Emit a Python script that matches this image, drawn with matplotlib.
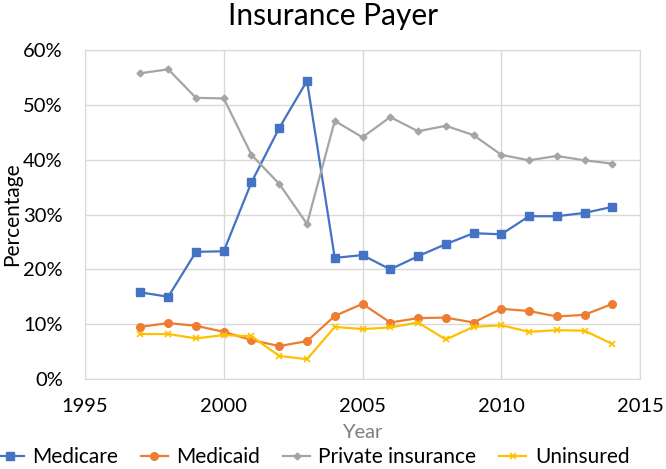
import matplotlib
matplotlib.use('Agg')
import matplotlib.pyplot as plt
from matplotlib.ticker import PercentFormatter

# 数据
years = list(range(1997, 2015))
medicare = [15.8, 15.0, 23.2, 23.3, 35.9, 45.8, 54.4, 22.1, 22.6, 20.0,
            22.4, 24.6, 26.6, 26.4, 29.7, 29.7, 30.3, 31.4]
medicaid = [9.5, 10.2, 9.7, 8.6, 7.1, 6.0, 6.9, 11.5, 13.7, 10.3,
            11.1, 11.2, 10.3, 12.8, 12.4, 11.4, 11.7, 13.7]
private_ins = [55.8, 56.5, 51.3, 51.2, 40.9, 35.6, 28.3, 47.1, 44.1, 47.8,
               45.2, 46.2, 44.5, 40.9, 39.9, 40.7, 39.9, 39.3]
uninsured = [8.2, 8.2, 7.4, 8.0, 7.8, 4.2, 3.6, 9.5, 9.1, 9.4,
             10.3, 7.2, 9.5, 9.8, 8.6, 8.9, 8.8, 6.4]
x_ticks = [1995, 2000, 2005, 2010, 2015]
y_ticks = [0, 10, 20, 30, 40, 50, 60]

plt.rcParams['font.family'] = ['Lato', 'DejaVu Sans']

fig = plt.figure(figsize=(6.66, 4.69), dpi=100)
ax = fig.add_axes([0.1276, 0.192, 0.8334, 0.701])

ax.plot(years, medicare, color='#4472C4', marker='s', markersize=5.5, lw=1.6, label='Medicare')
ax.plot(years, medicaid, color='#ED7D31', marker='o', markersize=5.5, lw=1.6, label='Medicaid')
ax.plot(years, private_ins, color='#A5A5A5', marker='D', markersize=3.5, lw=1.6, label='Private insurance')
ax.plot(years, uninsured, color='#FFC000', marker='x', markersize=5, mew=1.2, lw=1.6, label='Uninsured')

ax.set_xlim(1995, 2015)
ax.set_ylim(0, 60)
ax.set_xticks(x_ticks)
ax.set_yticks(y_ticks)
ax.yaxis.set_major_formatter(PercentFormatter(decimals=0))
ax.tick_params(length=0, labelsize=14.5)
ax.tick_params(axis='y', pad=16)
ax.tick_params(axis='x', pad=14)
ax.grid(True, color='#D9D9D9', lw=1)
for s in ax.spines.values():
    s.set_color('#D9D9D9')

# 标题居中于整个图
fig.text(0.5, 0.966, 'Insurance Payer', fontsize=21.5, ha='center', va='center')
ax.set_ylabel('Percentage', fontsize=15)
ax.yaxis.set_label_coords(-0.114, 0.5)
ax.set_xlabel('Year', fontsize=14.5, color='#7F7F7F')
ax.xaxis.set_label_coords(0.5, -0.138)

fig.legend(loc='center', bbox_to_anchor=(0.47, 0.026), ncol=4, frameon=False,
           fontsize=15, handlelength=1.3, columnspacing=1.1, handletextpad=0.4)

fig.savefig('out.png', dpi=100)
